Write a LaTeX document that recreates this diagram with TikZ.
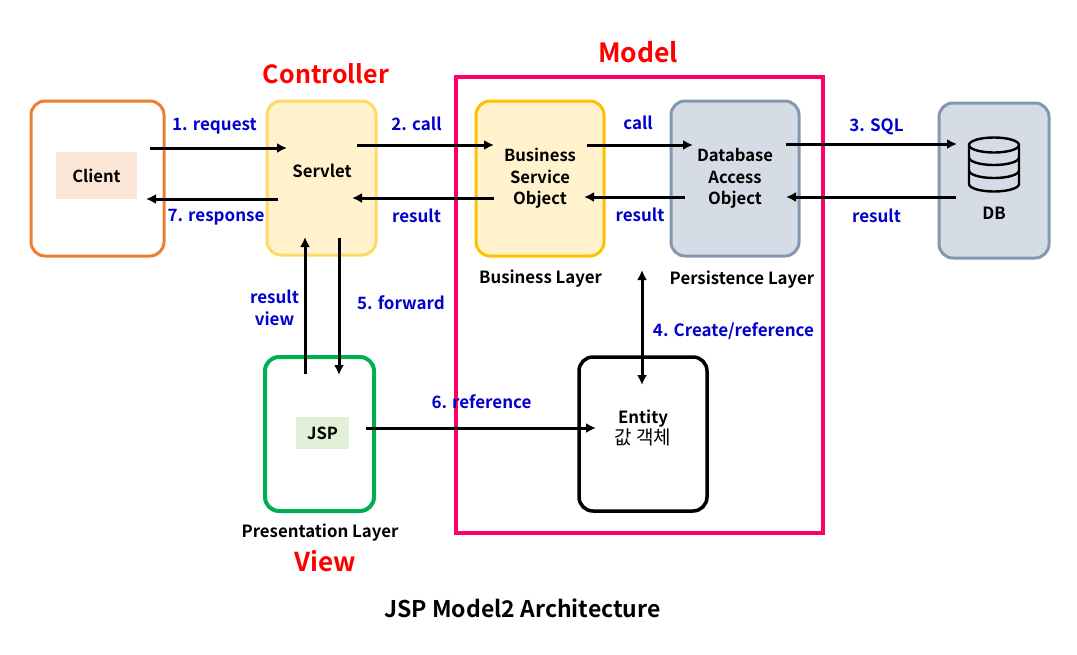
\documentclass[tikz,border=0pt]{standalone}
\usepackage{xcolor}
\usepackage{fontspec}
\setmainfont{Noto Sans CJK KR}[BoldFont={* Bold}]
\newfontfamily\krfont{Noto Sans CJK KR}
\usepackage{tikz}
\usetikzlibrary{arrows.meta,positioning}

\tikzset{
  tierbox/.style={draw,line width=3pt,rounded corners=14pt,inner sep=0pt,align=center,font=\fontsize{16.6}{21.5}\selectfont\bfseries},
  tagbox/.style={inner sep=0pt,font=\fontsize{16.6}{20}\selectfont\bfseries},
  blacktext/.style={inner sep=0pt,align=center,font=\fontsize{16.8}{20}\selectfont\bfseries},
  flowtext/.style={inner sep=0pt,align=center,text=flowblue,font=\fontsize{17}{22}\selectfont\bfseries},
  parttext/.style={inner sep=0pt,text=red,font=\fontsize{25}{28}\selectfont\bfseries},
  flow/.style={line width=3pt,-{Latex[length=10pt,width=10pt]}},
  bothflow/.style={line width=3pt,{Latex[length=10pt,width=10pt]}-{Latex[length=10pt,width=10pt]}}
}

\begin{document}
\begin{tikzpicture}[x=1pt,y=-1pt]
\definecolor{flowblue}{HTML}{0000CC}
\definecolor{modelpink}{HTML}{FF0066}
\definecolor{clientline}{HTML}{ED7D31}
\definecolor{clientfill}{HTML}{FBE5D6}
\definecolor{servletline}{HTML}{FFD966}
\definecolor{businessline}{HTML}{FFC000}
\definecolor{yellowfill}{HTML}{FFF2CC}
\definecolor{dataline}{HTML}{8497B0}
\definecolor{datafill}{HTML}{D6DCE5}
\definecolor{jspline}{HTML}{00B050}
\definecolor{jspfill}{HTML}{E2F0D9}
\useasboundingbox (0,0) rectangle (1077,654);

% Model frame
\node[draw=modelpink,line width=4pt,minimum width=367pt,minimum height=456pt,inner sep=0pt] (model) at (639.5,305) {};

% Boxes
\node[tierbox,draw=clientline,minimum width=133pt,minimum height=155pt] (client) at (97.5,178.5) {};
\node[tagbox,fill=clientfill,minimum width=81pt,minimum height=47pt] (clienttag) at (96.5,175.5) {Client};
\node[tierbox,draw=servletline,fill=yellowfill,minimum width=109pt,minimum height=154pt] (servlet) at (321.5,178) {};
\node[blacktext] (servlettext) at (322,171) {Servlet};
\node[tierbox,draw=businessline,fill=yellowfill,minimum width=128pt,minimum height=155pt] (business) at (540,178.5) {Business\\Service\\Object};
\node[tierbox,draw=dataline,fill=datafill,minimum width=128pt,minimum height=155pt] (dao) at (735,178.5) {Database\\Access\\Object};
\node[tierbox,draw=dataline,fill=datafill,minimum width=110pt,minimum height=155pt] (db) at (994,180.5) {};
\node[blacktext] (dbtext) at (994,213) {DB};
\node[tierbox,draw=jspline,line width=4pt,minimum width=109pt,minimum height=154pt] (jsp) at (319.5,434) {};
\node[tagbox,fill=jspfill,minimum width=53pt,minimum height=32pt] (jsptag) at (322.5,433) {JSP};
\node[tierbox,draw=black,line width=3.5pt,minimum width=128pt,minimum height=154pt] (entity) at (643,434) {};
\node[blacktext] (entitytext) at (643,428) {Entity\\[1pt]{\krfont\mdseries\fontsize{19}{20}\selectfont 값 객체}};

% DB icon
\draw[line width=2.4pt] (969,145) arc[start angle=180,end angle=0,x radius=25pt,y radius=7.5pt]
  -- (1019,184) arc[start angle=0,end angle=-180,x radius=25pt,y radius=7.5pt] -- cycle;
\draw[line width=2.4pt] (969,145) arc[start angle=180,end angle=360,x radius=25pt,y radius=7.5pt];
\draw[line width=2.4pt] (969,157.5) arc[start angle=180,end angle=360,x radius=25pt,y radius=7.5pt];
\draw[line width=2.4pt] (969,170.5) arc[start angle=180,end angle=360,x radius=25pt,y radius=7.5pt];

% Arrow ends
\coordinate (reqa) at (150,148);
\coordinate (reqb) at (287,148);
\coordinate (resa) at (278,199);
\coordinate (resb) at (146,199);
\coordinate (calla) at (357,145);
\coordinate (callb) at (494,145);
\coordinate (resulta) at (494,198);
\coordinate (resultb) at (352,198);
\coordinate (dcalla) at (587,145);
\coordinate (dcallb) at (693,145);
\coordinate (dresa) at (685,197);
\coordinate (dresb) at (584,197);
\coordinate (sqla) at (786,144);
\coordinate (sqlb) at (957,144);
\coordinate (dbresa) at (956,197);
\coordinate (dbresb) at (786,197);
\coordinate (viewa) at (305,374);
\coordinate (viewb) at (305,237);
\coordinate (fwda) at (339,238);
\coordinate (fwdb) at (339,375);
\coordinate (refa) at (366,428);
\coordinate (refb) at (596,428);
\coordinate (creata) at (642,270);
\coordinate (creatb) at (642,385);

% Arrows
\draw[flow] (reqa) -- (reqb);
\draw[flow] (resa) -- (resb);
\draw[flow] (calla) -- (callb);
\draw[flow] (resulta) -- (resultb);
\draw[flow] (dcalla) -- (dcallb);
\draw[flow] (dresa) -- (dresb);
\draw[flow] (sqla) -- (sqlb);
\draw[flow] (dbresa) -- (dbresb);
\draw[flow] (viewa) -- (viewb);
\draw[flow] (fwda) -- (fwdb);
\draw[flow] (refa) -- (refb);
\draw[bothflow] (creata) -- (creatb);

% Flow labels
\node[flowtext] (lreq) at (214.5,126) {1. request};
\node[flowtext] (lres) at (216,217) {7. response};
\node[flowtext] (lcall) at (416.5,124) {2. call};
\node[flowtext] (lresult) at (416.5,216) {result};
\node[flowtext] (ldcall) at (638,123) {call};
\node[flowtext] (ldres) at (640,215) {result};
\node[flowtext] (lsql) at (876.5,127) {3. SQL};
\node[flowtext] (ldbres) at (876.5,216) {result};
\node[flowtext] (lview) at (274.5,308) {result\\view};
\node[flowtext] (lfwd) at (401,303) {5. forward};
\node[flowtext] (lref) at (481.5,402) {6. reference};
\node[flowtext] (lcreat) at (733.5,331) {4. Create/reference};

% Layer names
\node[blacktext] (lbusiness) at (540.5,279) {Business Layer};
\node[blacktext] (lpersist) at (742,280) {Persistence Layer};
\node[blacktext] (lpresent) at (320,533) {Presentation Layer};

% MVC names
\node[parttext] (lcontrol) at (326,74) {Controller};
\node[parttext,font=\fontsize{26.5}{28}\selectfont\bfseries] (lmodel) at (638,52) {Model};
\node[parttext,font=\fontsize{26}{28}\selectfont\bfseries] (lviewname) at (325.5,561) {View};

\node[inner sep=0pt,font=\fontsize{23}{26}\selectfont\bfseries] (title) at (522.5,608) {JSP Model2 Architecture};
\end{tikzpicture}
\end{document}
